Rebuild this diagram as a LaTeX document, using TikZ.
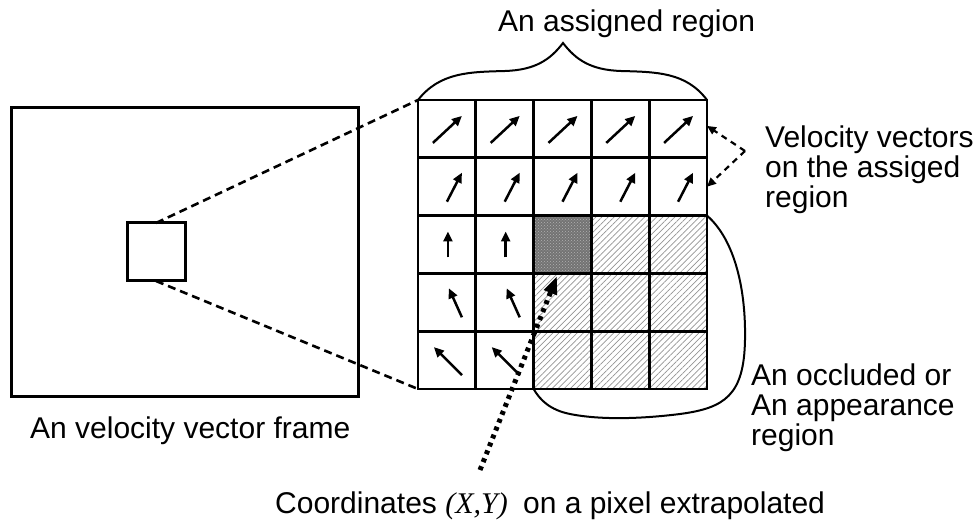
\documentclass[tikz,border=0pt]{standalone}
\usepackage{fontspec}
\setmainfont{Liberation Sans}
\newfontfamily\tms{Liberation Serif}
\usetikzlibrary{arrows.meta,patterns,patterns.meta}

\tikzset{
  boxline/.style={draw, line width=3pt, inner sep=0pt, outer sep=0pt},
  cell/.style={minimum width=57.8pt, minimum height=57.8pt, inner sep=0pt, outer sep=0pt},
  gridline/.style={line width=2.8pt},
  vec/.style={line width=2.5pt, -{Triangle[length=10pt,width=9pt]}},
  zoomline/.style={line width=2.6pt, dash pattern=on 8pt off 5pt},
  pointer/.style={line width=2.2pt, dash pattern=on 6pt off 5pt, -{Triangle[length=9pt,width=8pt]}},
  extrap/.style={line width=5pt, dash pattern=on 4pt off 4.5pt, -{Triangle[length=18pt,width=13pt]}},
  outline/.style={line width=2pt},
  label/.style={font=\fontsize{30}{30}\selectfont, inner sep=0pt, anchor=base west},
  hatched/.style={pattern={Lines[angle=45, distance=4.3pt, line width=0.7pt]}, pattern color=gray!85},
}

\begin{document}
\begin{tikzpicture}[x=1pt, y=-1pt]
\useasboundingbox (0,0) rectangle (975,521);

% velocity vector frame and the selected window inside it
\node[boxline, minimum width=347pt, minimum height=288pt] (frame) at (184.5,252) {};
\node[boxline, minimum width=58pt, minimum height=58pt] (window) at (156,252) {};

% 5x5 grid of pixel cells
\foreach \r in {1,...,5}
  \foreach \c in {1,...,5}
    \node[cell] (cell-\r-\c) at ({418+57.8*(\c-0.5)}, {100+57.8*(\r-0.5)}) {};

% dark cell and hatched occluded cells
\fill[black!55] (cell-3-3.north west) rectangle (cell-3-3.south east);
\fill[pattern=crosshatch dots, pattern color=black!30] (cell-3-3.north west) rectangle (cell-3-3.south east);
\fill[hatched] (cell-3-4.north west) rectangle (cell-3-5.south east);
\fill[hatched] (cell-4-3.north west) rectangle (cell-5-5.south east);

% grid lines
\draw[gridline] (cell-1-1.north west) rectangle (cell-5-5.south east);
\foreach \c in {1,...,4}
  \draw[gridline] (cell-1-\c.north east) -- (cell-5-\c.south east);
\foreach \r in {1,...,4}
  \draw[gridline] (cell-\r-1.south west) -- (cell-\r-5.south east);

% velocity vectors
\foreach \r/\sx/\sy/\ex/\ey in {1/-14/14/15/-13, 2/0/15/15/-14}
  \foreach \c in {1,...,5}
    \draw[vec] ([shift={(\sx,\sy)}]cell-\r-\c.center) -- ([shift={(\ex,\ey)}]cell-\r-\c.center);
\foreach \r/\sx/\sy/\ex/\ey in {3/1/13/1/-13, 4/15/15/2/-14, 5/15/15/-13/-13}
  \foreach \c in {1,2}
    \draw[vec] ([shift={(\sx,\sy)}]cell-\r-\c.center) -- ([shift={(\ex,\ey)}]cell-\r-\c.center);

% zoom lines from the window to the grid
\draw[zoomline] (window.north) -- (cell-1-1.north west);
\draw[zoomline] (window.south) -- (cell-5-1.south west);

% brace over the assigned region
\draw[outline] (cell-1-1.north west) .. controls (440,72) and (470,72) .. (505,71)
  .. controls (535,70) and (550,60) .. (563,43)
  .. controls (576,60) and (591,70) .. (621,71)
  .. controls (656,72) and (686,72) .. (cell-1-5.north east);
\node[label] (assigned) at (498,32) {An assigned region};

% pointers to the velocity vectors
\coordinate (vvpoint) at (745,151);
\draw[pointer] (vvpoint) -- ([yshift=3]cell-1-5.east);
\draw[pointer] (vvpoint) -- (cell-2-5.east);
\node[label] (vv1) at (765,148) {Velocity vectors};
\node[label] (vv2) at (765,178) {on the assiged};
\node[label] (vv3) at (765,208) {region};

% outline of the occluded region
\draw[outline] (cell-3-5.north east) .. controls (735,240) and (746,290) .. (745,340)
  .. controls (744,395) and (725,408) .. (680,414)
  .. controls (640,419) and (600,420) .. (570,414)
  .. controls (550,410) and (540,400) .. (cell-5-3.south west);
\node[label] (occ1) at (751,385) {An occluded or};
\node[label] (occ2) at (751,415) {An appearance};
\node[label] (occ3) at (751,445) {region};

% frame caption
\node[label] (framecap) at (30,438) {An velocity vector frame};

% extrapolated coordinates
\coordinate (xypix) at (557,276);
\coordinate (xytail) at (480,470);
\draw[extrap] (xytail) -- (xypix);
\node[label] (coordcap) at (275,513) {Coordinates {\tms\itshape (X,Y)}\hspace{7pt} on a pixel extrapolated};
\end{tikzpicture}
\end{document}
